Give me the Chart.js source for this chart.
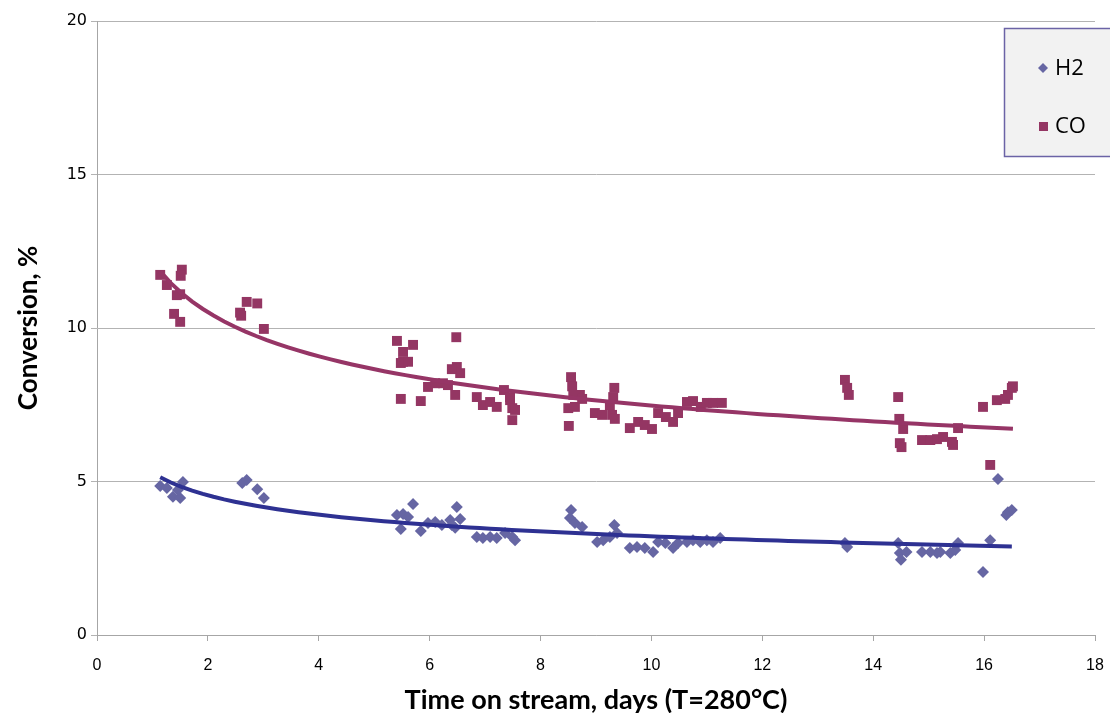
<!DOCTYPE html>
<html lang="en">
<head>
<meta charset="UTF-8">
<title>Conversion vs time on stream</title>
<script src="https://cdn.jsdelivr.net/npm/chart.js"></script>
<style>
  html, body { margin: 0; padding: 0; background: #fff; }
  #wrap { width: 1110px; height: 713px; position: relative; }
</style>
</head>
<body>
<div id="wrap"><canvas id="conv"></canvas></div>
<script>
// values (days, conversion %)
const h2Days = [1.14, 1.26, 1.55, 1.37, 1.50, 1.46, 2.62, 2.70, 2.89, 3.01,
  5.70, 5.41, 5.52, 5.61, 5.48, 5.84, 5.97, 6.10, 6.22, 6.37, 6.49, 6.55, 6.46, 6.40,
  6.85, 6.96, 7.09, 7.21, 7.36, 7.49, 7.54,
  8.55, 8.53, 8.62, 8.75, 9.33, 9.38, 9.02, 9.13, 9.25, 9.61, 9.74, 9.88, 10.03,
  10.12, 10.25, 10.39, 10.48, 10.64, 10.75, 10.88, 11.00, 11.11, 11.24,
  13.53, 13.49, 14.45, 14.48, 14.50, 14.60, 14.88, 15.03, 15.15, 15.21, 15.39, 15.48, 15.53,
  16.11, 15.98, 16.25, 16.43, 16.50, 16.40];
const h2Conv = [4.85, 4.79, 4.98, 4.50, 4.46, 4.72, 4.95, 5.05, 4.75, 4.46,
  4.27, 3.91, 3.94, 3.84, 3.45, 3.39, 3.65, 3.68, 3.58, 3.75, 4.17, 3.78, 3.49, 3.58,
  3.19, 3.16, 3.19, 3.16, 3.32, 3.19, 3.09,
  4.07, 3.81, 3.65, 3.52, 3.58, 3.32, 3.03, 3.09, 3.19, 2.83, 2.87, 2.83, 2.70,
  3.03, 3.00, 2.83, 3.00, 3.03, 3.09, 3.03, 3.09, 3.03, 3.16,
  2.87, 3.00, 3.00, 2.67, 2.45, 2.70, 2.70, 2.70, 2.67, 2.70, 2.67, 2.77, 3.00,
  3.09, 2.05, 5.08, 4.00, 4.07, 3.91];

const coDays = [1.14, 1.26, 1.39, 1.44, 1.50, 1.53, 1.51, 1.50, 2.58, 2.60, 2.70, 2.89, 3.01,
  5.41, 5.70, 5.52, 5.52, 5.48, 5.61, 5.48, 5.84, 6.48, 6.49, 6.55, 6.40, 5.97, 6.10, 6.24, 6.33, 6.46,
  6.85, 6.96, 7.09, 7.21, 7.34, 7.45, 7.49, 7.54, 7.49, 7.45,
  8.55, 8.57, 8.59, 8.71, 8.50, 8.62, 8.51, 8.75, 9.33, 9.31, 9.25, 8.98, 9.11, 9.29, 9.34,
  9.61, 9.76, 9.88, 10.01, 10.12, 10.26, 10.39, 10.48, 10.64, 10.75, 10.89, 11.00, 11.11, 11.27,
  13.49, 13.53, 13.56, 14.45, 14.47, 14.54, 14.48, 14.51, 14.88, 15.03, 15.15, 15.26, 15.42, 15.44, 15.53,
  15.98, 16.11, 16.23, 16.38, 16.43, 16.50, 16.52];
const coConv = [11.73, 11.40, 10.46, 11.07, 10.20, 11.90, 11.70, 11.10, 10.50, 10.40, 10.85, 10.80, 9.97,
  9.58, 9.45, 9.22, 8.90, 8.86, 8.90, 7.69, 7.62, 9.70, 8.73, 8.53, 8.66, 8.08, 8.20, 8.20, 8.14, 7.82,
  7.75, 7.49, 7.59, 7.43, 7.98, 7.65, 7.39, 7.33, 7.00, 7.75,
  8.40, 8.10, 7.82, 7.82, 7.39, 7.43, 6.81, 7.69, 8.05, 7.75, 7.49, 7.23, 7.17, 7.17, 7.04,
  6.74, 6.94, 6.84, 6.71, 7.23, 7.10, 6.94, 7.23, 7.59, 7.62, 7.43, 7.56, 7.56, 7.56,
  8.31, 8.05, 7.82, 7.75, 7.04, 6.71, 6.25, 6.12, 6.35, 6.35, 6.38, 6.45, 6.29, 6.19, 6.74,
  7.43, 5.54, 7.65, 7.69, 7.82, 8.05, 8.10];

const xTicks = [0, 2, 4, 6, 8, 10, 12, 14, 16, 18];
const yTicks = [0, 5, 10, 15, 20];

const h2Color = '#6666a3';
const coColor = '#943663';
const h2TrendColor = '#2e3192';
const coTrendColor = '#963566';

// power trendline (least squares on ln y vs ln x), like the spreadsheet one
function powerTrend(xs, ys) {
  const n = xs.length;
  let sx = 0, sy = 0, sxx = 0, sxy = 0;
  for (let i = 0; i < n; i++) {
    const lx = Math.log(xs[i]), ly = Math.log(ys[i]);
    sx += lx; sy += ly; sxx += lx * lx; sxy += lx * ly;
  }
  const b = (n * sxy - sx * sy) / (n * sxx - sx * sx);
  const a = Math.exp((sy - b * sx) / n);
  const lo = Math.min(...xs), hi = Math.max(...xs);
  const pts = [];
  for (let i = 0; i <= 80; i++) {
    const x = lo + (hi - lo) * i / 80;
    pts.push({ x: x, y: a * Math.pow(x, b) });
  }
  return pts;
}

const toPoints = (xs, ys) => xs.map((x, i) => ({ x: x, y: ys[i] }));

const boxLegend = {
  id: 'boxLegend',
  afterDraw(chart) {
    const ctx = chart.ctx;
    ctx.save();
    ctx.fillStyle = '#f2f2f2';
    ctx.fillRect(1004, 28, 120, 128);
    ctx.strokeStyle = '#6b63a6';
    ctx.lineWidth = 1.5;
    ctx.strokeRect(1004.5, 28.5, 120, 128);

    // H2 diamond
    ctx.fillStyle = h2Color;
    ctx.beginPath();
    ctx.moveTo(1043, 63); ctx.lineTo(1048, 68); ctx.lineTo(1043, 73); ctx.lineTo(1038, 68);
    ctx.closePath();
    ctx.fill();
    // CO square
    ctx.fillStyle = coColor;
    ctx.fillRect(1039, 122, 9, 9);

    ctx.fillStyle = '#000';
    ctx.font = '22px "Open Sans", sans-serif';
    ctx.textBaseline = 'middle';
    ctx.textAlign = 'left';
    ctx.fillText('H2', 1055, 69);
    ctx.fillText('CO', 1055, 127);
    ctx.restore();
  }
};

new Chart(document.getElementById('conv'), {
  type: 'scatter',
  data: {
    datasets: [
      {
        label: 'H2 trend',
        data: powerTrend(h2Days, h2Conv),
        showLine: true,
        borderColor: h2TrendColor,
        borderWidth: 4,
        pointRadius: 0,
        order: 0
      },
      {
        label: 'CO trend',
        data: powerTrend(coDays, coConv),
        showLine: true,
        borderColor: coTrendColor,
        borderWidth: 4,
        pointRadius: 0,
        order: 0
      },
      {
        label: 'H2',
        data: toPoints(h2Days, h2Conv),
        pointStyle: 'rectRot',
        pointRadius: 6,
        backgroundColor: h2Color,
        borderColor: h2Color,
        borderWidth: 0,
        order: 1
      },
      {
        label: 'CO',
        data: toPoints(coDays, coConv),
        pointStyle: 'rect',
        pointRadius: 7,
        backgroundColor: coColor,
        borderColor: coColor,
        borderWidth: 0,
        order: 1
      }
    ]
  },
  options: {
    responsive: true,
    maintainAspectRatio: false,
    animation: false,
    layout: { padding: { top: 21, right: 15, left: 0, bottom: 0 } },
    plugins: {
      legend: { display: false },
      tooltip: { enabled: false }
    },
    scales: {
      x: {
        type: 'linear',
        min: 0,
        max: 18,
        afterFit: s => { s.height = 78; s.paddingLeft = 0; s.paddingRight = 0; },
        afterBuildTicks: s => { s.ticks = xTicks.map(v => ({ value: v })); },
        grid: { drawOnChartArea: false, drawTicks: true, tickLength: 6, color: '#a6a6a6' },
        border: { color: '#a6a6a6', width: 1 },
        ticks: {
          color: '#000',
          padding: 15,
          maxRotation: 0,
          font: { family: '"Liberation Sans Narrow", "Liberation Sans", sans-serif', size: 16 }
        },
        title: {
          display: true,
          text: 'Time on stream, days (T=280°C)',
          color: '#000',
          padding: { top: 0, bottom: -3 },
          font: { family: 'Lato, sans-serif', size: 27, weight: 'bold' }
        }
      },
      y: {
        min: 0,
        max: 20,
        afterFit: s => { s.width = 97; },
        afterBuildTicks: s => { s.ticks = yTicks.map(v => ({ value: v })); },
        grid: { color: '#b3b3b3', tickLength: 6, lineWidth: 1 },
        border: { color: '#a6a6a6', width: 1 },
        ticks: {
          color: '#000',
          padding: 4,
          font: { family: '"DejaVu Sans", sans-serif', size: 16 }
        },
        title: {
          display: true,
          text: 'Conversion, %',
          color: '#000',
          padding: { top: 13, bottom: 0 },
          font: { family: 'Lato, sans-serif', size: 26, weight: 'bold' }
        }
      }
    }
  },
  plugins: [boxLegend]
});
</script>
</body>
</html>
